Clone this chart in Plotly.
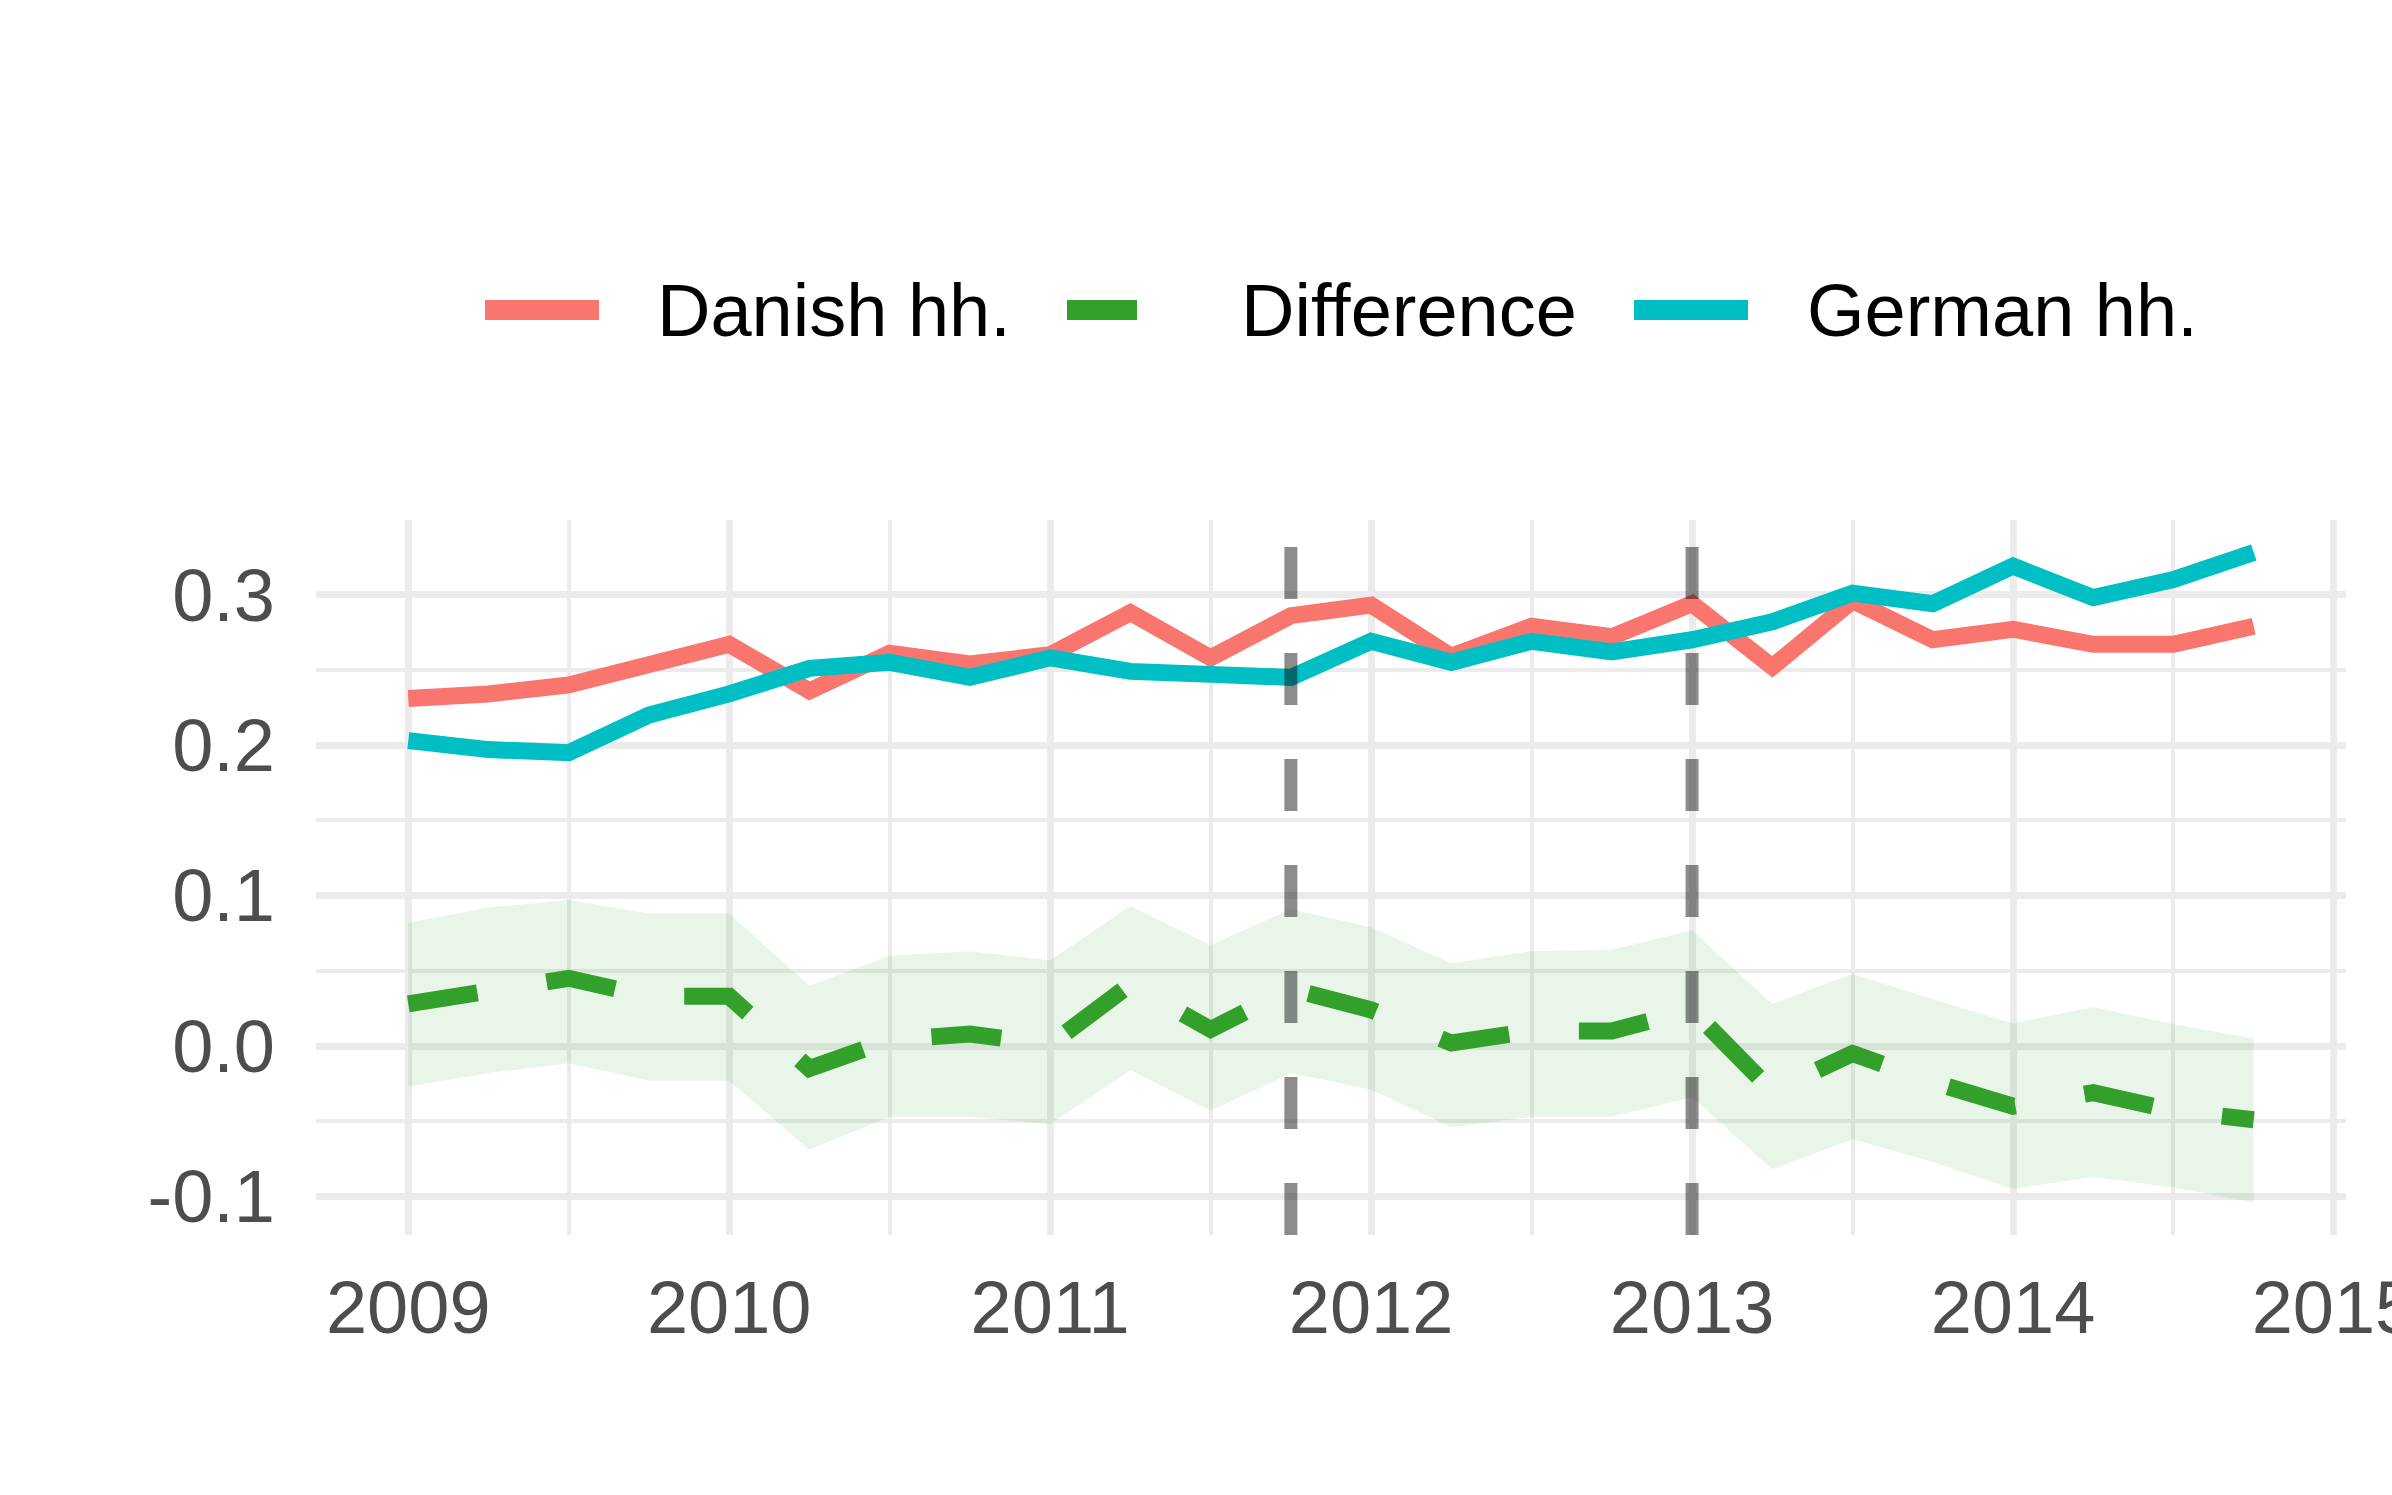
import plotly.graph_objects as go

# ---------------- data ----------------
quarters = [2009.0, 2009.25, 2009.5, 2009.75, 2010.0, 2010.25, 2010.5, 2010.75,
            2011.0, 2011.25, 2011.5, 2011.75, 2012.0, 2012.25, 2012.5, 2012.75,
            2013.0, 2013.25, 2013.5, 2013.75, 2014.0, 2014.25, 2014.5, 2014.75]

danish = [0.231, 0.234, 0.240, 0.253, 0.267, 0.236, 0.261, 0.254,
          0.260, 0.288, 0.258, 0.286, 0.293, 0.259, 0.279, 0.272,
          0.294, 0.252, 0.296, 0.270, 0.277, 0.267, 0.267, 0.279]

german = [0.203, 0.197, 0.195, 0.220, 0.234, 0.251, 0.255, 0.245,
          0.258, 0.249, 0.247, 0.245, 0.269, 0.255, 0.269, 0.262,
          0.270, 0.282, 0.301, 0.294, 0.319, 0.298, 0.310, 0.328]

difference = [0.028, 0.037, 0.045, 0.033, 0.033, -0.015, 0.004, 0.008,
              0.001, 0.041, 0.011, 0.038, 0.024, 0.002, 0.010, 0.010,
              0.024, -0.030, -0.005, -0.024, -0.040, -0.031, -0.043, -0.049]

diff_upper = [0.082, 0.092, 0.097, 0.088, 0.088, 0.040, 0.060, 0.063,
              0.057, 0.093, 0.067, 0.091, 0.079, 0.055, 0.063, 0.064,
              0.077, 0.028, 0.048, 0.031, 0.015, 0.026, 0.0145, 0.005]

diff_lower = [-0.027, -0.018, -0.0115, -0.023, -0.023, -0.069, -0.047, -0.047,
              -0.052, -0.016, -0.043, -0.018, -0.029, -0.054, -0.047, -0.047,
              -0.034, -0.082, -0.062, -0.077, -0.095, -0.087, -0.094, -0.104]

event_dates = [2011.75, 2013.0]

series_names = ["Danish hh.", "Difference", "German hh."]

x_ticks = [2009, 2010, 2011, 2012, 2013, 2014, 2015]
x_tick_labels = ["2009", "2010", "2011", "2012", "2013", "2014", "2015"]
x_minor = [2009.5, 2010.5, 2011.5, 2012.5, 2013.5, 2014.5]
y_ticks = [-0.1, 0.0, 0.1, 0.2, 0.3]
y_tick_labels = ["-0.1", "0.0", "0.1", "0.2", "0.3"]
y_minor = [-0.05, 0.05, 0.15, 0.25]

# ---------------- styling ----------------
W, H = 2392, 1495
ML, MR, MT, MB = 316, 46, 520, 260
PW, PH = W - ML - MR, H - MT - MB
FONT = "Liberation Sans, Arial, sans-serif"
RED, GREEN, TEAL = "#F8766D", "#33A02C", "#00BFC4"
GRID = "#EBEBEB"
colors = {"Danish hh.": RED, "Difference": GREEN, "German hh.": TEAL}
dashes = {"Danish hh.": "solid", "Difference": "70px,70px", "German hh.": "solid"}
values = {"Danish hh.": danish, "Difference": difference, "German hh.": german}
LW = 17


def px_x(px):
    return (px - ML) / PW


def px_y(py):
    return (H - MB - py) / PH


fig = go.Figure()

# confidence ribbon for the difference
fig.add_trace(go.Scatter(x=quarters, y=diff_lower, mode="lines",
                         line=dict(width=0, color="rgba(0,0,0,0)"),
                         hoverinfo="skip", showlegend=False))
fig.add_trace(go.Scatter(x=quarters, y=diff_upper, mode="lines", fill="tonexty",
                         fillcolor="rgba(51,160,44,0.10)",
                         line=dict(width=0, color="rgba(0,0,0,0)"),
                         hoverinfo="skip", showlegend=False))

for name in series_names:
    fig.add_trace(go.Scatter(x=quarters, y=values[name], mode="lines", name=name,
                             line=dict(color=colors[name], width=LW, dash=dashes[name]),
                             showlegend=False))

shapes = []
for d in event_dates:
    shapes.append(dict(type="line", xref="x", yref="paper", x0=d, x1=d, y0=0, y1=1,
                       line=dict(color="rgba(0,0,0,0.45)", width=13, dash="52px,54px"),
                       layer="above"))

# manual legend (keys + labels) above the panel
key_x0 = [485, 1067, 1634]
text_x0 = [655, 1239, 1805]
key_len = 114
legend_y = 310
annotations = []
for i, name in enumerate(series_names):
    shapes.append(dict(type="line", xref="paper", yref="paper",
                       x0=px_x(key_x0[i]), x1=px_x(key_x0[i] + key_len),
                       y0=px_y(legend_y), y1=px_y(legend_y),
                       line=dict(color=colors[name], width=20, dash=dashes[name])))
    annotations.append(dict(text=name, xref="paper", yref="paper",
                            x=px_x(text_x0[i]), y=px_y(legend_y),
                            xanchor="left", yanchor="middle", showarrow=False,
                            font=dict(family=FONT, size=74, color="black")))

fig.update_layout(
    width=W, height=H,
    margin=dict(l=ML, r=MR, t=MT, b=MB, pad=0),
    paper_bgcolor="white", plot_bgcolor="white",
    font=dict(family=FONT, size=74, color="#4D4D4D"),
    showlegend=False,
    shapes=shapes,
    annotations=annotations,
    xaxis=dict(range=[2008.7125, 2015.0375], tickmode="array",
               tickvals=x_ticks, ticktext=x_tick_labels,
               showgrid=True, gridcolor=GRID, gridwidth=7,
               minor=dict(tickmode="array", tickvals=x_minor, showgrid=True,
                          gridcolor=GRID, gridwidth=4),
               zeroline=False, showline=False, ticks="",
               ticklabelstandoff=23, ticklabeloverflow="allow", automargin=False,
               tickfont=dict(family=FONT, size=74, color="#4D4D4D")),
    yaxis=dict(range=[-0.1256, 0.3496], tickmode="array",
               tickvals=y_ticks, ticktext=y_tick_labels,
               showgrid=True, gridcolor=GRID, gridwidth=7,
               minor=dict(tickmode="array", tickvals=y_minor, showgrid=True,
                          gridcolor=GRID, gridwidth=4),
               zeroline=False, showline=False, ticks="",
               ticklabelstandoff=40, automargin=False,
               tickfont=dict(family=FONT, size=74, color="#4D4D4D")),
)

fig.write_html("out.html", config={"displayModeBar": False},
               post_script="document.body.style.margin='0px';")
